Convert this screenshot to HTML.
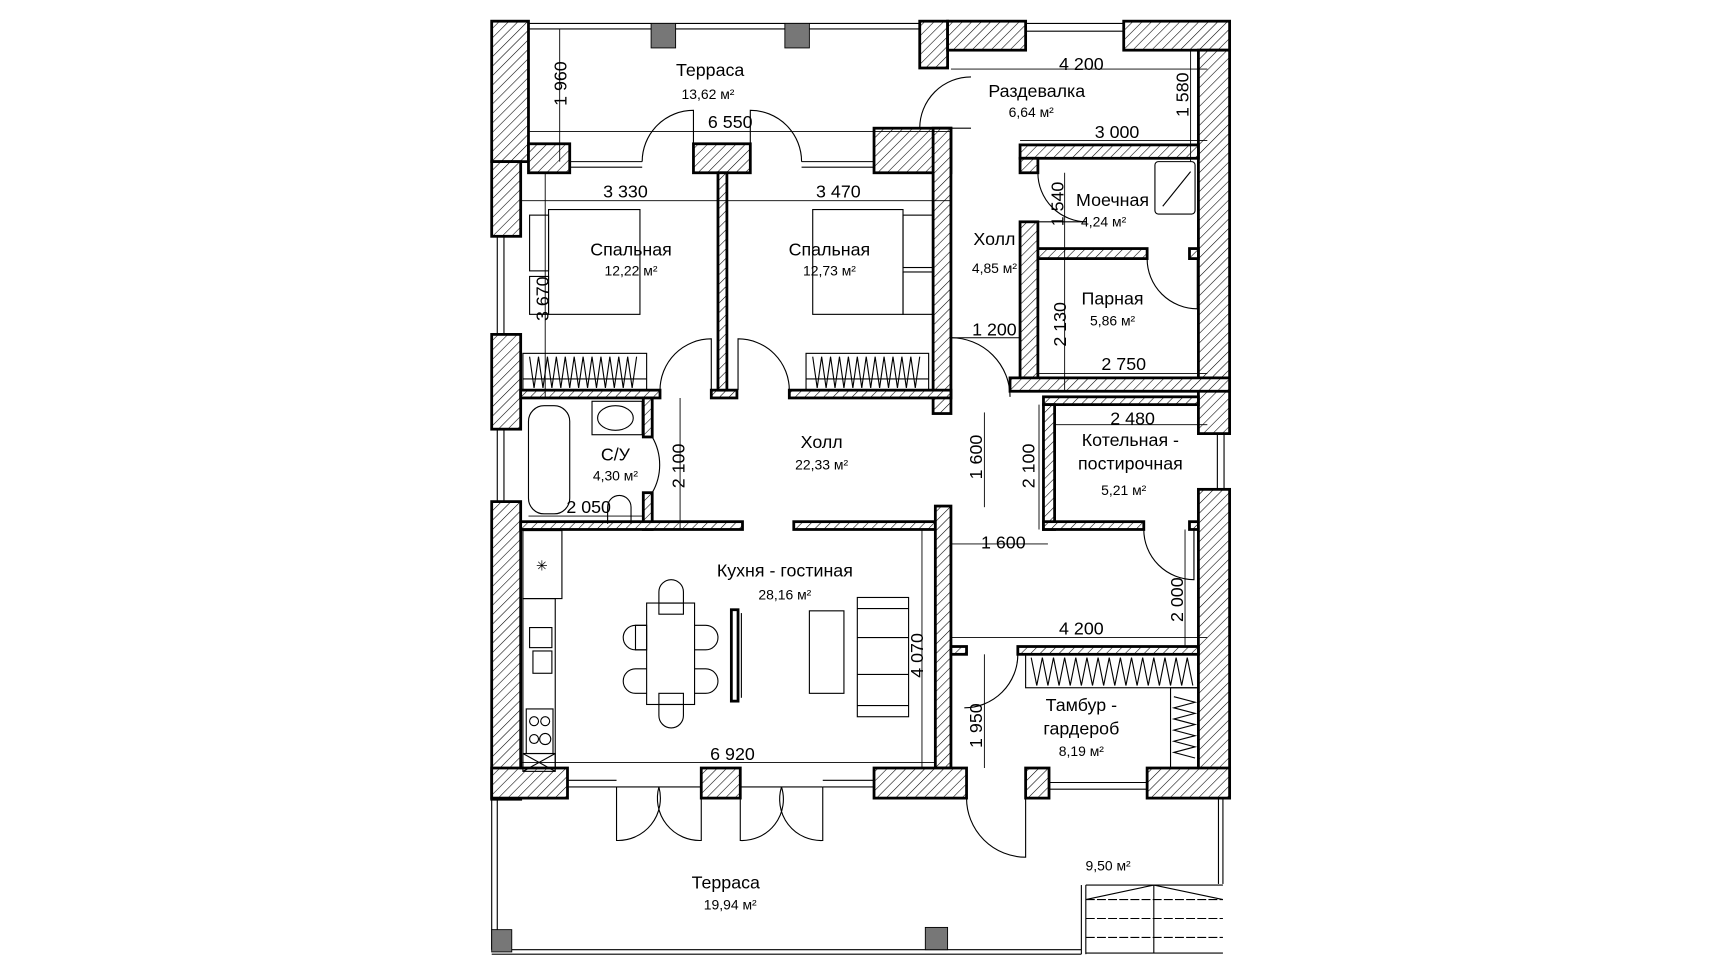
<!DOCTYPE html>
<html><head><meta charset="utf-8"><style>
html,body{margin:0;padding:0;background:#fff;}
svg{display:block;}
text{font-family:"Liberation Sans",sans-serif;fill:#000;}
.t{font-size:16px;text-anchor:middle;}
.a{font-size:12.5px;text-anchor:middle;}
.d{font-size:16px;text-anchor:middle;}
</style></head><body>
<svg width="1728" height="972" viewBox="0 0 1550 872" xmlns="http://www.w3.org/2000/svg">
<defs>
<pattern id="h" patternUnits="userSpaceOnUse" width="6" height="6" patternTransform="rotate(45)">
<rect width="6" height="6" fill="#fff"/><line x1="0" y1="0" x2="0" y2="6" stroke="#000" stroke-width="1"/>
</pattern>
</defs>
<rect width="1550" height="872" fill="#fff"/>
<g fill="url(#h)" stroke="#000" stroke-width="2.5">
<rect x="441" y="19" width="33" height="126"/>
<rect x="441" y="145" width="26" height="67"/>
<rect x="441" y="300" width="26" height="85"/>
<rect x="441" y="450" width="26" height="267"/>
<rect x="474" y="129" width="37" height="26"/>
<rect x="622" y="129" width="51" height="26"/>
<rect x="784" y="115" width="69" height="40"/>
<rect x="837" y="115" width="16" height="256"/>
<rect x="825" y="19" width="25" height="42"/>
<rect x="850" y="19" width="70" height="26"/>
<rect x="1008" y="19" width="95" height="26"/>
<rect x="1075" y="45" width="28" height="344"/>
<rect x="915" y="130" width="160" height="12"/>
<rect x="915" y="142" width="16" height="13"/>
<rect x="915" y="199" width="16" height="145"/>
<rect x="931" y="223" width="98" height="9"/>
<rect x="1067" y="223" width="8" height="9"/>
<rect x="906" y="339" width="197" height="12"/>
<rect x="467" y="350" width="125" height="7"/>
<rect x="638" y="350" width="23" height="7"/>
<rect x="708" y="350" width="145" height="7"/>
<rect x="644" y="155" width="8" height="195"/>
<rect x="577" y="357" width="8" height="35"/>
<rect x="577" y="442" width="8" height="33"/>
<rect x="467" y="468" width="199" height="7"/>
<rect x="712" y="468" width="127" height="7"/>
<rect x="839" y="454" width="14" height="235"/>
<rect x="936" y="356" width="139" height="7"/>
<rect x="936" y="363" width="10" height="112"/>
<rect x="936" y="468" width="90" height="7"/>
<rect x="1067" y="468" width="8" height="7"/>
<rect x="1075" y="439" width="28" height="277"/>
<rect x="913" y="580" width="162" height="7"/>
<rect x="853" y="580" width="14" height="7"/>
<rect x="441" y="689" width="68" height="27"/>
<rect x="629" y="689" width="35" height="27"/>
<rect x="784" y="689" width="83" height="27"/>
<rect x="920" y="689" width="21" height="27"/>
<rect x="1029" y="689" width="74" height="27"/>
</g>
<g fill="none" stroke="#000" stroke-width="1">
<line x1="474" y1="21" x2="825" y2="21"/><line x1="474" y1="26" x2="825" y2="26"/>
<line x1="920" y1="21" x2="1008" y2="21"/><line x1="920" y1="28" x2="1008" y2="28"/>
<line x1="511" y1="145" x2="576" y2="145"/><line x1="511" y1="150" x2="576" y2="150"/>
<line x1="719" y1="145" x2="784" y2="145"/><line x1="719" y1="150" x2="784" y2="150"/>
<line x1="446" y1="212" x2="446" y2="300"/><line x1="452" y1="212" x2="452" y2="300"/>
<line x1="446" y1="385" x2="446" y2="450"/><line x1="452" y1="385" x2="452" y2="450"/>
<line x1="1098" y1="389" x2="1098" y2="439"/><line x1="1092" y1="389" x2="1092" y2="439"/>
<line x1="509" y1="700" x2="553" y2="700"/><line x1="509" y1="706" x2="553" y2="706"/>
<line x1="553" y1="706" x2="629" y2="706"/><line x1="664" y1="706" x2="738" y2="706"/>
<line x1="738" y1="700" x2="784" y2="700"/><line x1="738" y1="706" x2="784" y2="706"/>
<line x1="941" y1="702" x2="1029" y2="702"/><line x1="941" y1="708" x2="1029" y2="708"/>
<path d="M576 145 A46 46 0 0 1 622 99 L622 145"/>
<path d="M719 145 A46 46 0 0 0 673 99 L673 145"/>
<path d="M825 115 A46 46 0 0 1 871 69"/><line x1="825" y1="115" x2="871" y2="115"/>
<path d="M592 350 A46 46 0 0 1 638 304 L638 350"/>
<path d="M708 350 A46 46 0 0 0 662 304 L662 350"/>
<path d="M853 303 A53 53 0 0 1 906 356"/>
<path d="M585 442 A50 50 0 0 0 585 392"/>
<path d="M931 155 A44 44 0 0 0 975 199"/><line x1="931" y1="199" x2="975" y2="199"/>
<path d="M1029 232 A45 45 0 0 0 1074 277 L1074 232"/>
<path d="M1026 475 A45 45 0 0 0 1071 520 L1071 475"/>
<path d="M913 587 A48 48 0 0 1 865 635"/>
<path d="M553 706 L553 754 A38 38 0 0 0 591 706"/><path d="M629 706 L629 754 A38 38 0 0 1 591 706"/>
<path d="M664 706 L664 754 A37 37 0 0 0 701 706"/><path d="M738 706 L738 754 A37 37 0 0 1 701 706"/>
<path d="M867 716 A53 53 0 0 0 920 769 L920 716"/>
<line x1="441" y1="716" x2="441" y2="852"/><line x1="446" y1="716" x2="446" y2="852"/>
<line x1="441" y1="852" x2="970" y2="852"/><line x1="441" y1="856" x2="970" y2="856"/>
<line x1="970" y1="794" x2="970" y2="856"/><line x1="974" y1="794" x2="974" y2="856"/>
<line x1="1093" y1="716" x2="1093" y2="793"/><line x1="1097" y1="716" x2="1097" y2="793"/>
<line x1="974" y1="794" x2="1097" y2="794"/>
<line x1="974" y1="807" x2="1097" y2="807" stroke-dasharray="8 2"/>
<line x1="974" y1="824" x2="1097" y2="824" stroke-dasharray="8 2"/>
<line x1="974" y1="841" x2="1097" y2="841" stroke-dasharray="8 2"/>
<line x1="974" y1="855" x2="1097" y2="855"/>
<line x1="1035" y1="794" x2="1035" y2="855"/>
<polyline points="974,807 1035,794 1097,807"/>
<rect x="492" y="188" width="82" height="94"/>
<rect x="475" y="193" width="17" height="50"/><rect x="475" y="248" width="17" height="34"/>
<rect x="729" y="188" width="81" height="94"/>
<rect x="810" y="193" width="27" height="47"/><rect x="810" y="244" width="27" height="38"/>
<rect x="469" y="317" width="111" height="33"/><line x1="469" y1="340" x2="580" y2="340"/>
<path d="M475 320 l4 28 l4 -28 l4 28 l4 -28 l4 28 l4 -28 l4 28 l4 -28 l4 28 l4 -28 l4 28 l4 -28 l4 28 l4 -28 l4 28 l4 -28 l4 28 l4 -28 l4 28 l4 -28 l4 28 l4 -28 l4 28 l4 -28"/>
<rect x="723" y="317" width="110" height="33"/><line x1="723" y1="340" x2="833" y2="340"/>
<path d="M729 320 l4 28 l4 -28 l4 28 l4 -28 l4 28 l4 -28 l4 28 l4 -28 l4 28 l4 -28 l4 28 l4 -28 l4 28 l4 -28 l4 28 l4 -28 l4 28 l4 -28 l4 28 l4 -28 l4 28 l4 -28 l4 28 l4 -28"/>
<rect x="474" y="364" width="37" height="97" rx="14"/>
<rect x="531" y="360" width="45" height="30"/><ellipse cx="552" cy="375" rx="16" ry="11"/>
<path d="M545 470 L545 455 A10 10 0 0 1 566 455 L566 470"/>
<rect x="1036" y="145" width="36" height="47" rx="3"/><line x1="1043" y1="185" x2="1068" y2="154"/>
<rect x="469" y="476" width="35" height="61"/>
<rect x="469" y="537" width="29" height="152"/>
<rect x="475" y="563" width="20" height="18"/><rect x="478" y="584" width="17" height="20"/>
<rect x="472" y="636" width="24" height="40"/>
<circle cx="479" cy="647" r="4"/><circle cx="489" cy="647" r="4"/><circle cx="479" cy="663" r="4"/><circle cx="489" cy="663" r="5"/>
<rect x="469" y="676" width="29" height="16"/><line x1="469" y1="676" x2="498" y2="692"/><line x1="498" y1="676" x2="469" y2="692"/>
<rect x="580" y="541" width="43" height="91"/>
<path d="M591 541 v-10 a11 11 0 0 1 22 0 v10"/><rect x="591" y="541" width="22" height="10"/>
<path d="M591 632 v10 a11 11 0 0 0 22 0 v-10"/><rect x="591" y="622" width="22" height="10"/>
<path d="M580 561 h-10 a11 11 0 0 0 0 22 h10"/><rect x="570" y="561" width="10" height="22"/>
<path d="M580 600 h-10 a11 11 0 0 0 0 22 h10"/>
<path d="M623 561 h10 a11 11 0 0 1 0 22 h-10"/>
<path d="M623 600 h10 a11 11 0 0 1 0 22 h-10"/>
<rect x="656" y="547" width="6" height="82" stroke-width="2.5"/><line x1="665" y1="550" x2="665" y2="626"/>
<rect x="726" y="548" width="31" height="74"/>
<rect x="769" y="536" width="46" height="107"/>
<line x1="769" y1="546" x2="815" y2="546"/><line x1="769" y1="633" x2="815" y2="633"/>
<line x1="769" y1="572" x2="815" y2="572"/><line x1="769" y1="605" x2="815" y2="605"/>
<rect x="920" y="587" width="155" height="30"/>
<path d="M925 590 l5 25 l5 -25 l5 25 l5 -25 l5 25 l5 -25 l5 25 l5 -25 l5 25 l5 -25 l5 25 l5 -25 l5 25 l5 -25 l5 25 l5 -25 l5 25 l5 -25 l5 25 l5 -25 l5 25 l5 -25 l5 25 l5 -25 l5 25 l5 -25 l5 25 l5 -25 l5 25"/>
<rect x="1050" y="617" width="25" height="72"/>
<path d="M1053 625 l19 5 l-19 5 l19 5 l-19 5 l19 5 l-19 5 l19 5 l-19 5 l19 5 l-19 5 l19 5"/>
</g>
<text x="486" y="512" class="a">✳</text>
<g fill="#777" stroke="#000" stroke-width="0.8">
<rect x="584" y="21" width="22" height="22"/><rect x="704" y="21" width="22" height="22"/>
<rect x="441" y="834" width="18" height="20"/><rect x="830" y="832" width="20" height="20"/>
</g>
<g stroke="#000" stroke-width="0.8" fill="none">
<line x1="474" y1="118" x2="853" y2="118"/>
<line x1="502" y1="26" x2="502" y2="145"/>
<line x1="853" y1="62" x2="1083" y2="62"/>
<line x1="1068" y1="45" x2="1068" y2="145"/>
<line x1="915" y1="126" x2="1083" y2="126"/>
<line x1="467" y1="180" x2="853" y2="180"/>
<line x1="955" y1="155" x2="955" y2="351"/>
<line x1="489" y1="155" x2="489" y2="357"/>
<line x1="853" y1="303" x2="915" y2="303"/>
<line x1="931" y1="335" x2="1083" y2="335"/>
<line x1="946" y1="381" x2="1083" y2="381"/>
<line x1="610" y1="357" x2="610" y2="475"/>
<line x1="883" y1="370" x2="883" y2="455"/>
<line x1="932" y1="363" x2="932" y2="475"/>
<line x1="474" y1="463" x2="577" y2="463"/>
<line x1="853" y1="488" x2="940" y2="488"/>
<line x1="1063" y1="475" x2="1063" y2="580"/>
<line x1="853" y1="572" x2="1083" y2="572"/>
<line x1="827" y1="475" x2="827" y2="689"/>
<line x1="467" y1="684" x2="839" y2="684"/>
<line x1="883" y1="587" x2="883" y2="689"/>
</g>
<text x="637" y="68" class="t">Терраса</text><text x="635" y="89" class="a">13,62 м²</text>
<text x="930" y="87" class="t">Раздевалка</text><text x="925" y="105" class="a">6,64 м²</text>
<text x="566" y="229" class="t">Спальная</text><text x="566" y="247" class="a">12,22 м²</text>
<text x="744" y="229" class="t">Спальная</text><text x="744" y="247" class="a">12,73 м²</text>
<text x="892" y="220" class="t">Холл</text><text x="892" y="245" class="a">4,85 м²</text>
<text x="998" y="185" class="t">Моечная</text><text x="990" y="203" class="a">4,24 м²</text>
<text x="998" y="273" class="t">Парная</text><text x="998" y="292" class="a">5,86 м²</text>
<text x="737" y="402" class="t">Холл</text><text x="737" y="421" class="a">22,33 м²</text>
<text x="552" y="413" class="t">С/У</text><text x="552" y="431" class="a">4,30 м²</text>
<text x="1014" y="400" class="t">Котельная -</text><text x="1014" y="421" class="t">постирочная</text><text x="1008" y="444" class="a">5,21 м²</text>
<text x="704" y="517" class="t">Кухня - гостиная</text><text x="704" y="538" class="a">28,16 м²</text>
<text x="970" y="638" class="t">Тамбур -</text><text x="970" y="659" class="t">гардероб</text><text x="970" y="678" class="a">8,19 м²</text>
<text x="651" y="797" class="t">Терраса</text><text x="655" y="816" class="a">19,94 м²</text>
<text x="994" y="781" class="a">9,50 м²</text>
<text x="655" y="115" class="d">6 550</text>
<text x="970" y="63" class="d">4 200</text>
<text x="1002" y="124" class="d">3 000</text>
<text x="561" y="177" class="d">3 330</text>
<text x="752" y="177" class="d">3 470</text>
<text x="892" y="301" class="d">1 200</text>
<text x="1008" y="332" class="d">2 750</text>
<text x="1016" y="381" class="d">2 480</text>
<text x="528" y="460" class="d">2 050</text>
<text x="900" y="492" class="d">1 600</text>
<text x="970" y="569" class="d">4 200</text>
<text x="657" y="682" class="d">6 920</text>
<text transform="translate(508,75) rotate(-90)" class="d">1 960</text>
<text transform="translate(1066,85) rotate(-90)" class="d">1 580</text>
<text transform="translate(954,183) rotate(-90)" class="d">1 540</text>
<text transform="translate(492,268) rotate(-90)" class="d">3 670</text>
<text transform="translate(956,291) rotate(-90)" class="d">2 130</text>
<text transform="translate(614,418) rotate(-90)" class="d">2 100</text>
<text transform="translate(881,410) rotate(-90)" class="d">1 600</text>
<text transform="translate(928,418) rotate(-90)" class="d">2 100</text>
<text transform="translate(1061,538) rotate(-90)" class="d">2 000</text>
<text transform="translate(828,588) rotate(-90)" class="d">4 070</text>
<text transform="translate(881,651) rotate(-90)" class="d">1 950</text>
</svg>
</body></html>
